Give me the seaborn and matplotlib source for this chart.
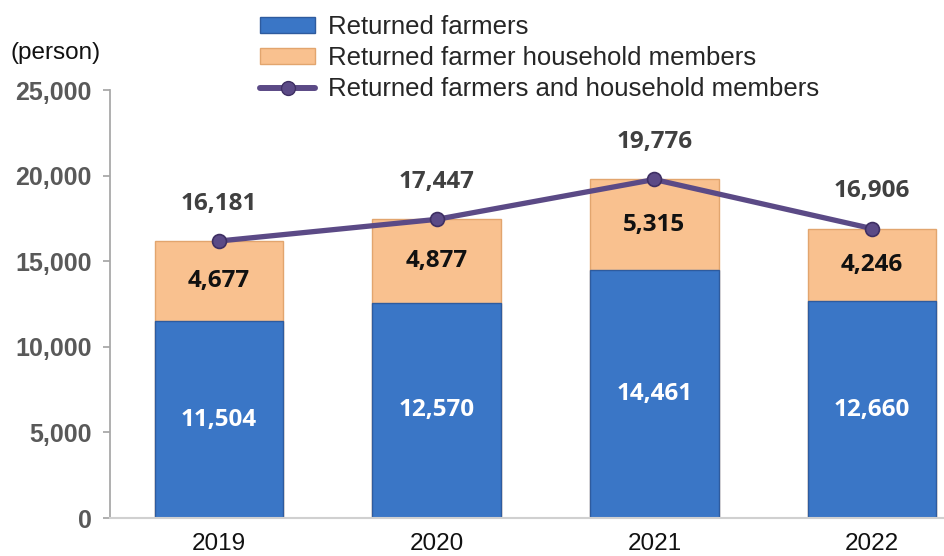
import numpy as np
import pandas as pd
import matplotlib
matplotlib.use("Agg")
import matplotlib.pyplot as plt
from matplotlib.lines import Line2D
from matplotlib.patches import Patch
import seaborn as sns

# --- Daten ---
years = ["2019", "2020", "2021", "2022"]
farmers = [11504, 12570, 14461, 12660]
members = [4677, 4877, 5315, 4246]
totals = [16181, 17447, 19776, 16906]

df = pd.DataFrame({"year": years, "farmers": farmers,
                   "members": members, "total": totals})

sns.set_theme(style="white")
plt.rcParams["font.family"] = ["Liberation Sans", "DejaVu Sans"]

blue = "#3a76c6"
peach = "#f9c18f"
purple = "#5b4a86"
num_font = ["Open Sans", "DejaVu Sans"]

fig = plt.figure(figsize=(9.44, 5.56), dpi=100)
ax = fig.add_axes([0.1165, 0.0683, 0.8835, 0.7697])

# Gestapelte Balken: zuerst Summe (oben sichtbar = Haushaltsmitglieder), dann Landwirte
sns.barplot(data=df, x="year", y="total", color=peach, width=0.59,
            edgecolor="#e2a56e", linewidth=1.0, saturation=1, ax=ax)
sns.barplot(data=df, x="year", y="farmers", color=blue, width=0.59,
            edgecolor="#2e5b9e", linewidth=1.0, saturation=1, ax=ax)

# Linie für Gesamtzahl
x = np.arange(len(years))
ax.plot(x, df["total"], color=purple, lw=3.8, marker="o", ms=10,
        mfc=purple, mec="#3e2f63", mew=1.2, zorder=5)

# --- Beschriftungen ---
for i in range(len(years)):
    ax.text(i, farmers[i] / 2, f"{farmers[i]:,}", ha="center", va="center",
            color="white", fontsize=17.5, fontweight="bold", family=num_font)
    ax.text(i, farmers[i] + members[i] / 2, f"{members[i]:,}", ha="center",
            va="center", color="#111111", fontsize=17.5, fontweight="bold",
            family=num_font)
    ax.annotate(f"{totals[i]:,}", (i, totals[i]), xytext=(0, 27),
                textcoords="offset points", ha="center", va="center",
                color="#404040", fontsize=17.5, fontweight="bold",
                family=num_font)

ax.set_xlim(-0.5, 3.33)
ax.set_ylim(0, 25000)
ax.set_yticks(np.arange(0, 25001, 5000))
ax.set_yticklabels([f"{v:,}" for v in range(0, 25001, 5000)],
                   fontsize=18, fontweight="bold", color="#595959")
ax.set_xticklabels(years, fontsize=17.5, color="#111111")
ax.set_xlabel("")
ax.set_ylabel("")

for s in ["top", "right"]:
    ax.spines[s].set_visible(False)
ax.spines["left"].set_color("#a6a6a6")
ax.spines["bottom"].set_color("#d0d0d0")
ax.spines["bottom"].set_linewidth(1.5)
ax.tick_params(axis="y", left=True, length=5, color="#a6a6a6", pad=8)
ax.tick_params(axis="x", bottom=False, pad=5)

fig.text(0.011, 0.905, "(person)", fontsize=17.5, color="#111111",
         ha="left", va="center")

handles = [
    Patch(facecolor=blue, edgecolor="#2e5b9e", label="Returned farmers"),
    Patch(facecolor=peach, edgecolor="#e2a56e",
          label="Returned farmer household members"),
    Line2D([0], [0], color=purple, lw=4.3, marker="o", ms=10, mfc=purple,
           mec="#3e2f63", label="Returned farmers and household members"),
]
fig.legend(handles=handles, loc="upper left",
           bbox_to_anchor=(260 / 944, 1 - 15 / 556), frameon=False,
           fontsize=18.5, handlelength=2.15, handleheight=0.55,
           handletextpad=0.5, labelspacing=0.28, borderpad=0,
           borderaxespad=0)

fig.savefig("out.png", dpi=100)
